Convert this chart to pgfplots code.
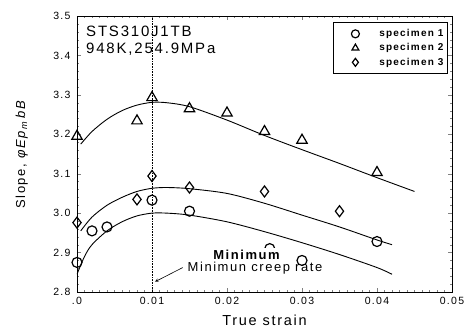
\documentclass[border=0pt]{standalone}
\usepackage{pgfplots}
\pgfplotsset{compat=1.18}
\usepackage{fontspec}
\setmainfont{Liberation Sans}[LetterSpace=12]
\begin{document}
\begin{tikzpicture}
\begin{axis}[
  set layers,
  scale only axis,
  anchor=south west, at={(0,0)},
  width=375pt, height=276pt,
  xmin=0, xmax=0.05, ymin=2.8, ymax=3.5,
  xtick={0,0.01,0.02,0.03,0.04,0.05},
  xticklabels={.0,0.01,0.02,0.03,0.04,0.05},
  ytick={2.8,2.9,3.0,3.1,3.2,3.3,3.4,3.5},
  yticklabel style={xshift=-3pt, /pgf/number format/fixed, /pgf/number format/fixed zerofill, /pgf/number format/precision=1},
  /pgf/number format/assume math mode=true,
  minor x tick num=9, minor y tick num=4,
  tick align=inside,
  major tick length=4pt, minor tick length=2pt,
  ticklabel style={font=\fontsize{10.5}{12}\selectfont},
  xticklabel style={yshift=-2pt},
  scaled x ticks=false,
  axis line style={line width=0.9pt},
  xlabel={\fontsize{14.5}{16}\selectfont True strain},
  ylabel={\fontsize{13}{15}\selectfont Slope, \textit{φEp}\textsubscript{\textit{m}}\,\textit{bB}},
  xlabel style={at={(axis description cs:0.5,-0.123)}, anchor=base},
  ylabel style={at={(axis description cs:-0.147,0.5)}, anchor=center},
  legend style={at={(rel axis cs:0.989,0.978)}, anchor=north east, draw=black, line width=0.8pt,
     font=\fontsize{10}{11}\selectfont\bfseries, row sep=1.5pt, inner xsep=2pt, inner ysep=5pt},
  legend image code/.code={\draw[#1, mark size=4pt] plot[only marks] coordinates {(20pt,0pt)}; \path[draw=none, fill=none] (0pt,0pt) (42pt,0pt);},
  legend cell align=left,
]
\draw[densely dotted, line width=0.6pt] (axis cs:0.01,2.8) -- (axis cs:0.01,3.5);
\addplot[only marks, mark=o, mark size=5pt, line width=1.2pt] coordinates {
 (0,2.875) (0.002,2.955) (0.004,2.965) (0.010,3.033) (0.015,3.005) (0.0257,2.91) (0.030,2.88) (0.040,2.928)};
\addlegendentry{specimen 1}
\addplot[only marks, mark=triangle, mark size=6pt, line width=1.2pt] coordinates {
 (0,3.195) (0.008,3.234) (0.010,3.293) (0.015,3.265) (0.020,3.254) (0.025,3.207) (0.030,3.185) (0.040,3.103)};
\addlegendentry{specimen 2}
\addplot[only marks, mark=diamond, mark size=5.5pt, line width=1.2pt] coordinates {
 (0,2.976) (0.008,3.035) (0.010,3.094) (0.015,3.065) (0.025,3.055) (0.035,3.005)};
\addlegendentry{specimen 3}
\addplot[smooth, line width=0.9pt, forget plot] coordinates {
 (0,2.845) (0.001,2.89) (0.002,2.92) (0.004,2.955) (0.006,2.978) (0.008,2.993) (0.010,3.0) (0.012,3.0) (0.015,2.995) (0.020,2.978) (0.025,2.953) (0.030,2.925) (0.035,2.895) (0.040,2.862) (0.042,2.845)};
\addplot[smooth, line width=0.9pt, forget plot] coordinates {
 (0.0005,2.955) (0.002,2.99) (0.004,3.02) (0.006,3.04) (0.008,3.055) (0.010,3.063) (0.012,3.065) (0.015,3.062) (0.020,3.05) (0.025,3.025) (0.030,2.995) (0.035,2.965) (0.040,2.932) (0.042,2.92)};
\addplot[smooth, line width=0.9pt, forget plot] coordinates {
 (0.0005,3.175) (0.002,3.207) (0.004,3.238) (0.006,3.26) (0.008,3.274) (0.010,3.281) (0.012,3.28) (0.015,3.27) (0.020,3.236) (0.025,3.197) (0.030,3.161) (0.035,3.126) (0.040,3.09) (0.045,3.055)};
\node[anchor=north west, align=left, font=\fontsize{15}{17}\selectfont, inner sep=0pt]
  at (axis cs:0.0012,3.475) {STS310J1TB\\948K,254.9MPa};
\begin{pgfonlayer}{axis foreground}
\node[fill=white, inner xsep=3pt, inner ysep=2.5pt, font=\fontsize{13}{14}\selectfont\bfseries] at (axis cs:0.0226,2.893) {Minimum};
\node[anchor=base west, inner sep=0pt, font=\fontsize{13}{14}\selectfont] at (axis cs:0.01473,2.851) {Minimun creep rate};
\end{pgfonlayer}
\draw[-stealth, line width=0.6pt] (axis cs:0.0141,2.862) -- (axis cs:0.0104,2.826);
\end{axis}
\pgfresetboundingbox
\path[use as bounding box] (-77pt,-42pt) rectangle (395pt,292pt);
\end{tikzpicture}
\end{document}
